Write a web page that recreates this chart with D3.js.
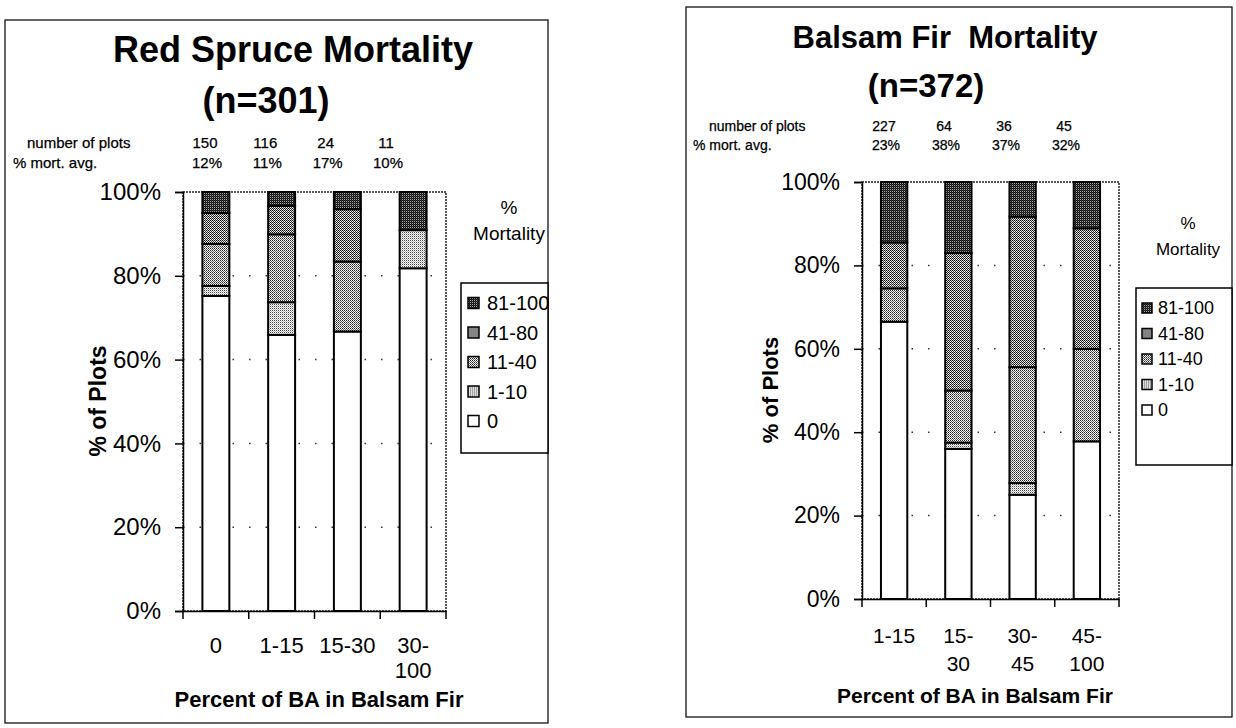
<html>
<head>
<style>
  body { margin: 0; background: #fff; font-family: "Liberation Sans", Arial, Helvetica, sans-serif; }
  svg { display: block; }
</style>
<script src="https://cdn.jsdelivr.net/npm/d3@7"></script>
</head>
<body>
<svg id="Chart"></svg>
<script>
// mortality classes, from bottom of the bar to the top
let mortClasses = ["0", "1-10", "11-40", "41-80", "81-100"];
let legendOrder = ["81-100", "41-80", "11-40", "1-10", "0"];
let yTicks = [0, 20, 40, 60, 80, 100];

// Red Spruce (n=301)
let spruceCats = ["0", "1-15", "15-30", "30-100"];
let spruceTickLabels = [["0"], ["1-15"], ["15-30"], ["30-", "100"]];
let spruceNumPlots = ["150", "116", "24", "11"];
let spruceMortAvg = ["12%", "11%", "17%", "10%"];
let spruceMort0 = [75.2, 65.9, 66.7, 81.8];
let spruceMort1to10 = [2.4, 7.8, 0, 9.1];
let spruceMort11to40 = [10.0, 16.2, 16.7, 0];
let spruceMort41to80 = [7.4, 6.8, 12.5, 0];
let spruceMort81to100 = [5.0, 3.3, 4.1, 9.1];

// Balsam Fir (n=372)
let firCats = ["1-15", "15-30", "30-45", "45-100"];
let firTickLabels = [["1-15"], ["15-", "30"], ["30-", "45"], ["45-", "100"]];
let firNumPlots = ["227", "64", "36", "45"];
let firMortAvg = ["23%", "38%", "37%", "32%"];
let firMort0 = [66.5, 36.0, 25.0, 37.8];
let firMort1to10 = [0, 1.5, 2.8, 0];
let firMort11to40 = [8.0, 12.5, 27.8, 22.2];
let firMort41to80 = [11.0, 33.0, 36.1, 28.9];
let firMort81to100 = [14.5, 17.0, 8.3, 11.1];

let fills = {"0": "#fff", "1-10": "url(#pat1)", "11-40": "url(#pat11)", "41-80": "url(#pat41)", "81-100": "url(#pat81)"};

let svg = d3.select("#Chart").attr("width", 1236).attr("height", 728);
svg.append("rect").attr("width", 1236).attr("height", 728).attr("fill", "#fff");

function addPatterns() {
  let defs = svg.append("defs");
  // small dithered tiles, like the halftone in the print
  let tiles = {
    pat81: [[0, 0, "#111"], [1, 1, "#111"], [1, 0, "#333"], [0, 1, "#aaa"]],
    pat41: [[0, 0, "#111"], [1, 1, "#333"], [1, 0, "#ccc"], [0, 1, "#fff"]],
    pat11: [[0, 0, "#222"], [1, 1, "#666"], [1, 0, "#fff"], [0, 1, "#eee"]],
    pat1:  [[0, 0, "#444"], [1, 1, "#bbb"], [1, 0, "#fff"], [0, 1, "#fff"]]
  };
  Object.keys(tiles).forEach(id => {
    let p = defs.append("pattern").attr("id", id)
      .attr("patternUnits", "userSpaceOnUse").attr("width", 2).attr("height", 2);
    tiles[id].forEach(t => p.append("rect").attr("x", t[0]).attr("y", t[1])
      .attr("width", 1).attr("height", 1).attr("fill", t[2]));
  });
}

function makeRows(cats, cols) {
  return cats.map((c, i) => {
    let row = {cat: c};
    mortClasses.forEach((k, j) => row[k] = cols[j][i]);
    return row;
  });
}

function drawPanel(cfg) {
  let {frame, plot, cats} = cfg;
  let g = svg.append("g");

  g.append("rect")
    .attr("x", frame.x).attr("y", frame.y).attr("width", frame.w).attr("height", frame.h)
    .attr("fill", "none").attr("stroke", "#111").attr("stroke-width", 1.3);

  // titles
  g.append("text").attr("x", cfg.title.x).attr("y", cfg.title.y)
    .attr("text-anchor", "middle").attr("font-weight", "bold").attr("font-size", cfg.title.size)
    .style("white-space", "pre").text(cfg.title.text);
  g.append("text").attr("x", cfg.sub.x).attr("y", cfg.sub.y)
    .attr("text-anchor", "middle").attr("font-weight", "bold").attr("font-size", cfg.sub.size)
    .text(cfg.sub.text);

  let xScale = d3.scaleBand().domain(cats)
    .range([plot.left, plot.right]).paddingInner(0.59).paddingOuter(0.295);
  let yScale = d3.scaleLinear().domain([0, 1]).range([plot.bottom, plot.top]);

  // header rows: number of plots / % mort. avg.
  let head = cfg.head;
  let headScale = d3.scalePoint().domain(cats).range(head.range);
  let hg = g.append("g").attr("font-size", head.size).attr("stroke", "#000").attr("stroke-width", 0.25);
  hg.append("text").attr("x", head.labelX).attr("y", head.y1).text("number of plots");
  hg.append("text").attr("x", head.pctX).attr("y", head.y2).text("% mort. avg.");
  hg.selectAll(".nplots").data(cats).enter().append("text")
    .attr("x", d => headScale(d)).attr("y", head.y1)
    .attr("text-anchor", "middle")
    .text((d, i) => cfg.numPlots[i]);
  hg.selectAll(".mavg").data(cats).enter().append("text")
    .attr("x", d => headScale(d) + 2).attr("y", head.y2)
    .attr("text-anchor", "middle")
    .text((d, i) => cfg.mortAvg[i]);

  // dotted grid
  g.selectAll(".grid").data(yTicks.filter(t => t > 0 && t < 100)).enter().append("line")
    .attr("x1", plot.left).attr("x2", plot.right)
    .attr("y1", d => yScale(d / 100)).attr("y2", d => yScale(d / 100))
    .attr("stroke", "#333").attr("stroke-width", 1.5).attr("stroke-dasharray", "1.5,15");

  // plot area border (dotted)
  g.append("rect")
    .attr("x", plot.left).attr("y", plot.top)
    .attr("width", plot.right - plot.left).attr("height", plot.bottom - plot.top)
    .attr("fill", "none").attr("stroke", "#222").attr("stroke-width", 1.5).attr("stroke-dasharray", "2,1");

  // stacked bars
  let rows = makeRows(cats, cfg.values);
  let series = d3.stack().keys(mortClasses).offset(d3.stackOffsetExpand)(rows);
  series.forEach(s => {
    g.selectAll(null).data(s.filter(d => d[1] - d[0] > 0.0001)).enter().append("rect")
      .attr("x", d => xScale(d.data.cat))
      .attr("width", xScale.bandwidth())
      .attr("y", d => yScale(d[1]))
      .attr("height", d => yScale(d[0]) - yScale(d[1]))
      .attr("fill", fills[s.key])
      .attr("stroke", "#000").attr("stroke-width", 2);
  });

  // y axis
  let axisY = d3.axisLeft(yScale)
    .tickValues(yTicks.map(t => t / 100))
    .tickFormat(d3.format(".0%"))
    .tickSize(8).tickPadding(14);
  let gy = g.append("g").attr("transform", `translate(${plot.left},0)`).call(axisY);
  gy.selectAll("text").attr("font-size", cfg.axisFont).attr("font-family", "Liberation Sans, Arial, sans-serif").attr("fill", "#000");
  gy.selectAll("line, path").attr("stroke", "#000").attr("stroke-width", 1.5);

  // x axis: line, ticks between the categories, labels under each bar
  let axisX = d3.axisBottom(xScale).tickSize(0).tickFormat("");
  let gx = g.append("g").attr("transform", `translate(0,${plot.bottom})`).call(axisX);
  gx.selectAll("path").attr("stroke", "#000").attr("stroke-width", 1.5);
  let bounds = [xScale.range()[0]].concat(cats.map(c => xScale(c) + xScale.bandwidth() / 2 + xScale.step() / 2));
  g.selectAll(".xtick").data(bounds).enter().append("line")
    .attr("x1", d => d).attr("x2", d => d)
    .attr("y1", plot.bottom).attr("y2", plot.bottom + 8)
    .attr("stroke", "#000").attr("stroke-width", 1.5);
  let labs = g.selectAll(".xlab").data(cats).enter().append("text")
    .attr("font-size", cfg.xLab.size).attr("text-anchor", "middle")
    .attr("y", cfg.xLab.y);
  labs.each(function(d, i) {
    let t = d3.select(this);
    cfg.tickLabels[i].forEach((line, j) => {
      t.append("tspan").attr("x", xScale(d) + xScale.bandwidth() / 2)
        .attr("dy", j === 0 ? 0 : cfg.xLab.dy).text(line);
    });
  });

  // axis titles
  g.append("text").attr("x", cfg.xTitle.x).attr("y", cfg.xTitle.y)
    .attr("text-anchor", "middle").attr("font-weight", "bold").attr("font-size", cfg.xTitle.size)
    .text("Percent of BA in Balsam Fir");
  g.append("text")
    .attr("transform", `translate(${cfg.yLabel.x},${cfg.yLabel.y}) rotate(-90)`)
    .attr("text-anchor", "middle").attr("font-weight", "bold").attr("font-size", cfg.yLabel.size)
    .text("% of Plots");

  // legend
  let lg = cfg.legend;
  g.append("text").attr("x", lg.titleX).attr("y", lg.pctY).attr("text-anchor", "middle")
    .attr("font-size", lg.size - 1).text("%");
  g.append("text").attr("x", lg.titleX).attr("y", lg.mortY).attr("text-anchor", "middle")
    .attr("font-size", lg.size - 1).text("Mortality");
  g.append("rect").attr("x", lg.box.x).attr("y", lg.box.y).attr("width", lg.box.w).attr("height", lg.box.h)
    .attr("fill", "#fff").attr("stroke", "#000").attr("stroke-width", 1.5);
  let items = g.selectAll(".leg").data(legendOrder).enter().append("g")
    .attr("transform", (d, i) => `translate(${lg.swatchX},${lg.itemY0 + i * lg.step})`);
  items.append("rect").attr("x", 0).attr("y", -lg.sw / 2).attr("width", lg.sw).attr("height", lg.sw)
    .attr("fill", d => fills[d]).attr("stroke", "#000").attr("stroke-width", 1.5);
  items.append("text").attr("x", lg.textDx).attr("y", 0).attr("dy", "0.36em")
    .attr("font-size", lg.size).text(d => d);
}

addPatterns();

drawPanel({
  cats: spruceCats, tickLabels: spruceTickLabels, numPlots: spruceNumPlots, mortAvg: spruceMortAvg,
  values: [spruceMort0, spruceMort1to10, spruceMort11to40, spruceMort41to80, spruceMort81to100],
  frame: {x: 5, y: 20, w: 543, h: 703},
  plot: {left: 183, right: 446, top: 192, bottom: 611},
  title: {x: 293, y: 62, size: 36, text: "Red Spruce Mortality"},
  sub: {x: 266, y: 113, size: 36, text: "(n=301)"},
  head: {labelX: 27, pctX: 13, y1: 148, y2: 168, size: 15, range: [205, 386]},
  axisFont: 24,
  xLab: {y: 653, dy: 25, size: 22},
  xTitle: {x: 319, y: 707, size: 22},
  yLabel: {x: 106, y: 401, size: 23},
  legend: {titleX: 509, pctY: 214, mortY: 240, box: {x: 461, y: 283, w: 87, h: 170},
           itemY0: 303, step: 29.5, swatchX: 468, sw: 11, textDx: 19, size: 20}
});

drawPanel({
  cats: firCats, tickLabels: firTickLabels, numPlots: firNumPlots, mortAvg: firMortAvg,
  values: [firMort0, firMort1to10, firMort11to40, firMort41to80, firMort81to100],
  frame: {x: 686, y: 7, w: 546, h: 710},
  plot: {left: 862, right: 1119, top: 182, bottom: 599},
  title: {x: 945, y: 48, size: 31, text: "Balsam Fir  Mortality"},
  sub: {x: 926, y: 97, size: 33, text: "(n=372)"},
  head: {labelX: 709, pctX: 693, y1: 131, y2: 150, size: 14, range: [884, 1064]},
  axisFont: 23,
  xLab: {y: 643, dy: 28, size: 21},
  xTitle: {x: 975, y: 703, size: 21},
  yLabel: {x: 778, y: 390, size: 22},
  legend: {titleX: 1188, pctY: 229, mortY: 255, box: {x: 1136, y: 288, w: 96, h: 177},
           itemY0: 308, step: 25.5, swatchX: 1142, sw: 10, textDx: 16, size: 18}
});
</script>
</body>
</html>
